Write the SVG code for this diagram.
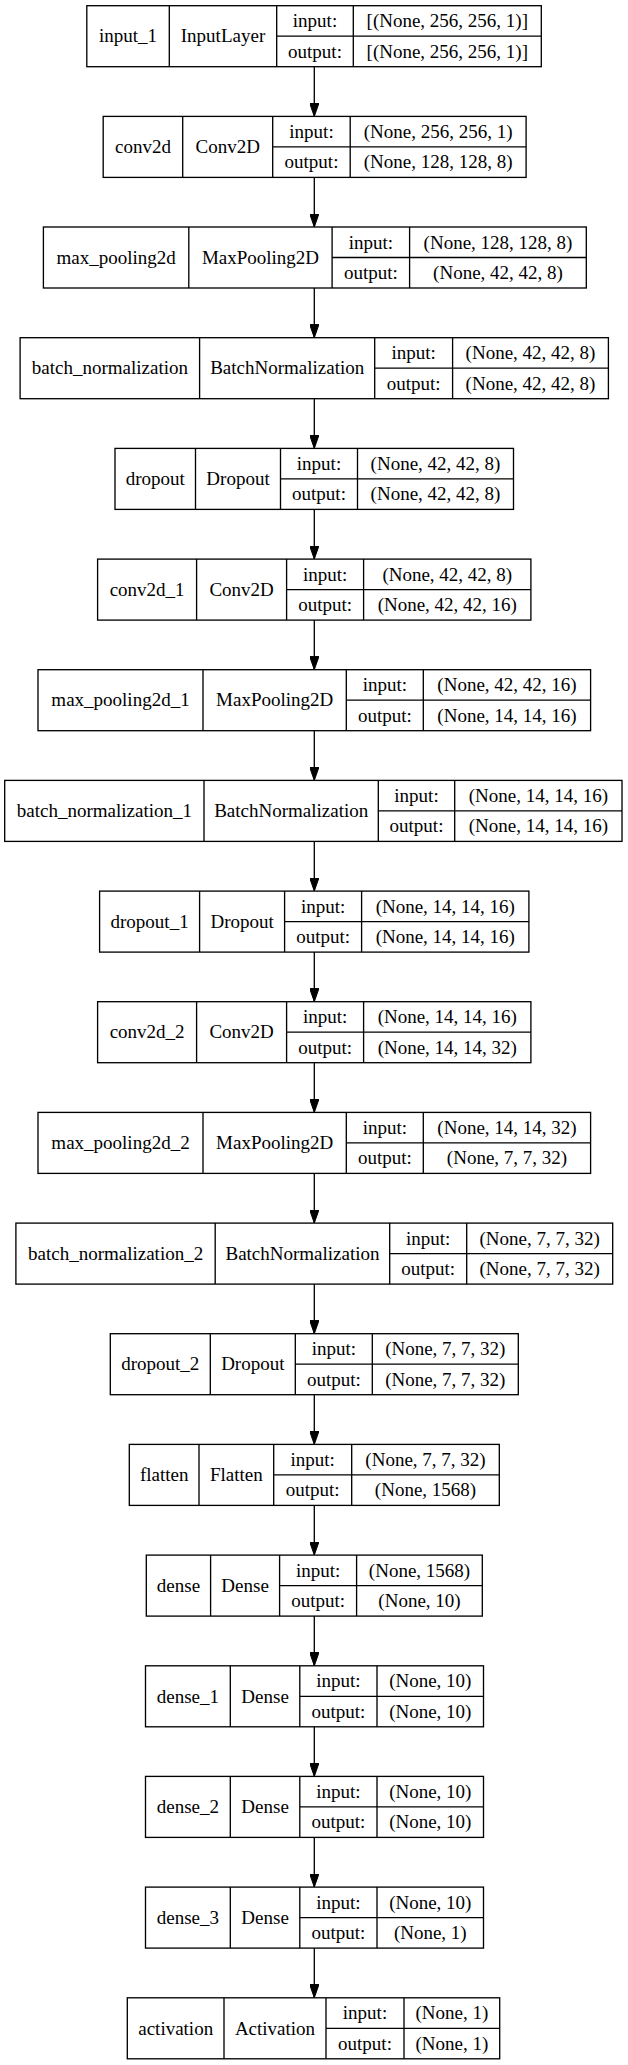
<svg xmlns="http://www.w3.org/2000/svg" width="628" height="2065" viewBox="0 0 628 2065">
<style>
.bg{fill:#fff}
.box{fill:#fff;stroke:#000;stroke-width:1.33}
.div{fill:none;stroke:#000;stroke-width:1.33}
.edge{fill:none;stroke:#000;stroke-width:1.33}
text{font-family:"Liberation Serif","Times New Roman",serif;font-size:19px;text-anchor:middle;fill:#000}
</style>
<defs>
<marker id="arr" markerUnits="userSpaceOnUse" viewBox="0 0 13.33 9.33" refX="13.33" refY="4.665" markerWidth="13.33" markerHeight="9.33" orient="auto">
<path d="M0,0 L13.33,4.665 L0,9.33 Z" fill="#000" stroke="#000" stroke-width="1"/>
</marker>
</defs>
<rect class="bg" x="0" y="0" width="628" height="2065"/>
<g id="connectors">
<line class="edge" x1="314.3" y1="66.7" x2="314.3" y2="116.4" marker-end="url(#arr)"/>
<line class="edge" x1="314.3" y1="177.4" x2="314.3" y2="227" marker-end="url(#arr)"/>
<line class="edge" x1="314.3" y1="288" x2="314.3" y2="337.7" marker-end="url(#arr)"/>
<line class="edge" x1="314.3" y1="398.7" x2="314.3" y2="448.4" marker-end="url(#arr)"/>
<line class="edge" x1="314.3" y1="509.4" x2="314.3" y2="559.1" marker-end="url(#arr)"/>
<line class="edge" x1="314.3" y1="620.1" x2="314.3" y2="669.7" marker-end="url(#arr)"/>
<line class="edge" x1="314.3" y1="730.7" x2="314.3" y2="780.4" marker-end="url(#arr)"/>
<line class="edge" x1="314.3" y1="841.4" x2="314.3" y2="891.1" marker-end="url(#arr)"/>
<line class="edge" x1="314.3" y1="952.1" x2="314.3" y2="1001.7" marker-end="url(#arr)"/>
<line class="edge" x1="314.3" y1="1062.7" x2="314.3" y2="1112.4" marker-end="url(#arr)"/>
<line class="edge" x1="314.3" y1="1173.4" x2="314.3" y2="1223.1" marker-end="url(#arr)"/>
<line class="edge" x1="314.3" y1="1284.1" x2="314.3" y2="1333.7" marker-end="url(#arr)"/>
<line class="edge" x1="314.3" y1="1394.7" x2="314.3" y2="1444.4" marker-end="url(#arr)"/>
<line class="edge" x1="314.3" y1="1505.4" x2="314.3" y2="1555.1" marker-end="url(#arr)"/>
<line class="edge" x1="314.3" y1="1616.1" x2="314.3" y2="1665.8" marker-end="url(#arr)"/>
<line class="edge" x1="314.3" y1="1726.8" x2="314.3" y2="1776.4" marker-end="url(#arr)"/>
<line class="edge" x1="314.3" y1="1837.4" x2="314.3" y2="1887.1" marker-end="url(#arr)"/>
<line class="edge" x1="314.3" y1="1948.1" x2="314.3" y2="1997.8" marker-end="url(#arr)"/>
</g>
<g id="input_1">
<rect class="box" x="86.8" y="5.7" width="454.5" height="61"/>
<path class="div" d="M169.3,5.7V66.7M276.7,5.7V66.7M353.3,5.7V66.7M276.7,36.2H541.3"/>
<text x="128.1" y="42.4">input_1</text><text x="223" y="42.4">InputLayer</text>
<text x="315" y="27.2">input:</text><text x="315" y="57.7">output:</text>
<text x="447.3" y="27.2">[(None, 256, 256, 1)]</text><text x="447.3" y="57.7">[(None, 256, 256, 1)]</text>
</g>
<g id="conv2d">
<rect class="box" x="103.2" y="116.4" width="422.9" height="61"/>
<path class="div" d="M182.7,116.4V177.4M272.7,116.4V177.4M350.2,116.4V177.4M272.7,146.9H526.1"/>
<text x="143" y="153.1">conv2d</text><text x="227.7" y="153.1">Conv2D</text>
<text x="311.5" y="137.9">input:</text><text x="311.5" y="168.4">output:</text>
<text x="438.2" y="137.9">(None, 256, 256, 1)</text><text x="438.2" y="168.4">(None, 128, 128, 8)</text>
</g>
<g id="max_pooling2d">
<rect class="box" x="43.4" y="227" width="542.9" height="61"/>
<path class="div" d="M188.8,227V288M332.1,227V288M409.6,227V288M332.1,257.5H586.3"/>
<text x="116.1" y="263.7">max_pooling2d</text><text x="260.5" y="263.7">MaxPooling2D</text>
<text x="370.9" y="248.5">input:</text><text x="370.9" y="279">output:</text>
<text x="498" y="248.5">(None, 128, 128, 8)</text><text x="498" y="279">(None, 42, 42, 8)</text>
</g>
<g id="batch_normalization">
<rect class="box" x="20.1" y="337.7" width="588.3" height="61"/>
<path class="div" d="M199.6,337.7V398.7M374.7,337.7V398.7M452.6,337.7V398.7M374.7,368.2H608.4"/>
<text x="109.9" y="374.4">batch_normalization</text><text x="287.2" y="374.4">BatchNormalization</text>
<text x="413.7" y="359.2">input:</text><text x="413.7" y="389.7">output:</text>
<text x="530.5" y="359.2">(None, 42, 42, 8)</text><text x="530.5" y="389.7">(None, 42, 42, 8)</text>
</g>
<g id="dropout">
<rect class="box" x="115" y="448.4" width="398.5" height="61"/>
<path class="div" d="M195.5,448.4V509.4M280.5,448.4V509.4M357.5,448.4V509.4M280.5,478.9H513.5"/>
<text x="155.3" y="485.1">dropout</text><text x="238" y="485.1">Dropout</text>
<text x="319" y="469.9">input:</text><text x="319" y="500.4">output:</text>
<text x="435.5" y="469.9">(None, 42, 42, 8)</text><text x="435.5" y="500.4">(None, 42, 42, 8)</text>
</g>
<g id="conv2d_1">
<rect class="box" x="97.6" y="559.1" width="433.3" height="61"/>
<path class="div" d="M196.6,559.1V620.1M286.6,559.1V620.1M363.6,559.1V620.1M286.6,589.6H530.9"/>
<text x="147.1" y="595.8">conv2d_1</text><text x="241.6" y="595.8">Conv2D</text>
<text x="325.1" y="580.6">input:</text><text x="325.1" y="611.1">output:</text>
<text x="447.3" y="580.6">(None, 42, 42, 8)</text><text x="447.3" y="611.1">(None, 42, 42, 16)</text>
</g>
<g id="max_pooling2d_1">
<rect class="box" x="38" y="669.7" width="552.6" height="61"/>
<path class="div" d="M203,669.7V730.7M346.3,669.7V730.7M423.3,669.7V730.7M346.3,700.2H590.6"/>
<text x="120.5" y="706.4">max_pooling2d_1</text><text x="274.7" y="706.4">MaxPooling2D</text>
<text x="384.8" y="691.2">input:</text><text x="384.8" y="721.7">output:</text>
<text x="507" y="691.2">(None, 42, 42, 16)</text><text x="507" y="721.7">(None, 14, 14, 16)</text>
</g>
<g id="batch_normalization_1">
<rect class="box" x="4.7" y="780.4" width="617.3" height="61"/>
<path class="div" d="M204,780.4V841.4M378.3,780.4V841.4M454.7,780.4V841.4M378.3,810.9H622"/>
<text x="104.4" y="817.1">batch_normalization_1</text><text x="291.2" y="817.1">BatchNormalization</text>
<text x="416.5" y="801.9">input:</text><text x="416.5" y="832.4">output:</text>
<text x="538.4" y="801.9">(None, 14, 14, 16)</text><text x="538.4" y="832.4">(None, 14, 14, 16)</text>
</g>
<g id="dropout_1">
<rect class="box" x="99.6" y="891.1" width="429.3" height="61"/>
<path class="div" d="M199.6,891.1V952.1M284.6,891.1V952.1M361.6,891.1V952.1M284.6,921.6H528.9"/>
<text x="149.6" y="927.8">dropout_1</text><text x="242.1" y="927.8">Dropout</text>
<text x="323.1" y="912.6">input:</text><text x="323.1" y="943.1">output:</text>
<text x="445.3" y="912.6">(None, 14, 14, 16)</text><text x="445.3" y="943.1">(None, 14, 14, 16)</text>
</g>
<g id="conv2d_2">
<rect class="box" x="97.6" y="1001.7" width="433.3" height="61"/>
<path class="div" d="M196.6,1001.7V1062.7M286.6,1001.7V1062.7M363.6,1001.7V1062.7M286.6,1032.2H530.9"/>
<text x="147.1" y="1038.4">conv2d_2</text><text x="241.6" y="1038.4">Conv2D</text>
<text x="325.1" y="1023.2">input:</text><text x="325.1" y="1053.7">output:</text>
<text x="447.3" y="1023.2">(None, 14, 14, 16)</text><text x="447.3" y="1053.7">(None, 14, 14, 32)</text>
</g>
<g id="max_pooling2d_2">
<rect class="box" x="38" y="1112.4" width="552.6" height="61"/>
<path class="div" d="M203,1112.4V1173.4M346.3,1112.4V1173.4M423.3,1112.4V1173.4M346.3,1142.9H590.6"/>
<text x="120.5" y="1149.1">max_pooling2d_2</text><text x="274.7" y="1149.1">MaxPooling2D</text>
<text x="384.8" y="1133.9">input:</text><text x="384.8" y="1164.4">output:</text>
<text x="507" y="1133.9">(None, 14, 14, 32)</text><text x="507" y="1164.4">(None, 7, 7, 32)</text>
</g>
<g id="batch_normalization_2">
<rect class="box" x="15.9" y="1223.1" width="596.8" height="61"/>
<path class="div" d="M215.2,1223.1V1284.1M389.7,1223.1V1284.1M466.7,1223.1V1284.1M389.7,1253.6H612.7"/>
<text x="115.6" y="1259.8">batch_normalization_2</text><text x="302.5" y="1259.8">BatchNormalization</text>
<text x="428.2" y="1244.6">input:</text><text x="428.2" y="1275.1">output:</text>
<text x="539.7" y="1244.6">(None, 7, 7, 32)</text><text x="539.7" y="1275.1">(None, 7, 7, 32)</text>
</g>
<g id="dropout_2">
<rect class="box" x="110.3" y="1333.7" width="408" height="61"/>
<path class="div" d="M210.3,1333.7V1394.7M295.3,1333.7V1394.7M372.3,1333.7V1394.7M295.3,1364.2H518.3"/>
<text x="160.3" y="1370.4">dropout_2</text><text x="252.8" y="1370.4">Dropout</text>
<text x="333.8" y="1355.2">input:</text><text x="333.8" y="1385.7">output:</text>
<text x="445.3" y="1355.2">(None, 7, 7, 32)</text><text x="445.3" y="1385.7">(None, 7, 7, 32)</text>
</g>
<g id="flatten">
<rect class="box" x="129.3" y="1444.4" width="370" height="61"/>
<path class="div" d="M199,1444.4V1505.4M273.7,1444.4V1505.4M351.7,1444.4V1505.4M273.7,1474.9H499.3"/>
<text x="164.2" y="1481.1">flatten</text><text x="236.4" y="1481.1">Flatten</text>
<text x="312.7" y="1465.9">input:</text><text x="312.7" y="1496.4">output:</text>
<text x="425.5" y="1465.9">(None, 7, 7, 32)</text><text x="425.5" y="1496.4">(None, 1568)</text>
</g>
<g id="dense">
<rect class="box" x="146.3" y="1555.1" width="336" height="61"/>
<path class="div" d="M210.6,1555.1V1616.1M279.6,1555.1V1616.1M356.6,1555.1V1616.1M279.6,1585.6H482.3"/>
<text x="178.5" y="1591.8">dense</text><text x="245.1" y="1591.8">Dense</text>
<text x="318.1" y="1576.6">input:</text><text x="318.1" y="1607.1">output:</text>
<text x="419.5" y="1576.6">(None, 1568)</text><text x="419.5" y="1607.1">(None, 10)</text>
</g>
<g id="dense_1">
<rect class="box" x="145.5" y="1665.8" width="338" height="61"/>
<path class="div" d="M230.3,1665.8V1726.8M299.8,1665.8V1726.8M377,1665.8V1726.8M299.8,1696.3H483.5"/>
<text x="187.9" y="1702.5">dense_1</text><text x="265.1" y="1702.5">Dense</text>
<text x="338.4" y="1687.3">input:</text><text x="338.4" y="1717.8">output:</text>
<text x="430.3" y="1687.3">(None, 10)</text><text x="430.3" y="1717.8">(None, 10)</text>
</g>
<g id="dense_2">
<rect class="box" x="145.5" y="1776.4" width="338" height="61"/>
<path class="div" d="M230.3,1776.4V1837.4M299.8,1776.4V1837.4M377,1776.4V1837.4M299.8,1806.9H483.5"/>
<text x="187.9" y="1813.1">dense_2</text><text x="265.1" y="1813.1">Dense</text>
<text x="338.4" y="1797.9">input:</text><text x="338.4" y="1828.4">output:</text>
<text x="430.3" y="1797.9">(None, 10)</text><text x="430.3" y="1828.4">(None, 10)</text>
</g>
<g id="dense_3">
<rect class="box" x="145.5" y="1887.1" width="338" height="61"/>
<path class="div" d="M230.3,1887.1V1948.1M299.8,1887.1V1948.1M377,1887.1V1948.1M299.8,1917.6H483.5"/>
<text x="187.9" y="1923.8">dense_3</text><text x="265.1" y="1923.8">Dense</text>
<text x="338.4" y="1908.6">input:</text><text x="338.4" y="1939.1">output:</text>
<text x="430.3" y="1908.6">(None, 10)</text><text x="430.3" y="1939.1">(None, 1)</text>
</g>
<g id="activation">
<rect class="box" x="127.3" y="1997.8" width="372.4" height="61"/>
<path class="div" d="M224,1997.8V2058.8M326,1997.8V2058.8M404,1997.8V2058.8M326,2028.3H499.7"/>
<text x="175.7" y="2034.5">activation</text><text x="275" y="2034.5">Activation</text>
<text x="365" y="2019.3">input:</text><text x="365" y="2049.8">output:</text>
<text x="451.9" y="2019.3">(None, 1)</text><text x="451.9" y="2049.8">(None, 1)</text>
</g>
</svg>
